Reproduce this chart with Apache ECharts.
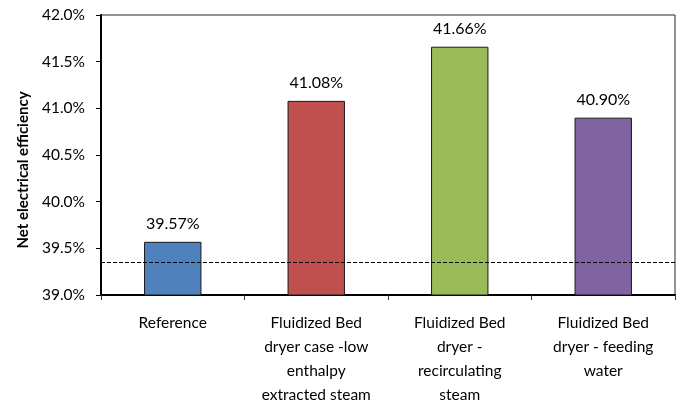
<!DOCTYPE html>
<html>
<head>
<meta charset="utf-8">
<script src="https://cdn.jsdelivr.net/npm/echarts@6/dist/echarts.min.js"></script>
<style>
  html, body { margin: 0; padding: 0; background: #fff; }
  #chart { width: 681px; height: 402px; }
</style>
</head>
<body>
<div id="chart"></div>
<script>
// Cases compared (label lines broken as on the axis)
const categories = [
  'Reference',
  'Fluidized Bed\ndryer case -low\nenthalpy\nextracted steam',
  'Fluidized Bed\ndryer -\nrecirculating\nsteam',
  'Fluidized Bed\ndryer - feeding\nwater'
];
// Net electrical efficiency, %
const efficiency = [39.57, 41.08, 41.66, 40.90];
const barColors = ['#4F81BD', '#C0504D', '#9BBB59', '#8064A2'];
// Horizontal dashed reference level, %
const referenceLevel = 39.35;
const yMin = 39.0, yMax = 42.0, yStep = 0.5;

const FONT = 'Lato, "Open Sans", sans-serif';

const chart = echarts.init(document.getElementById('chart'), null, { renderer: 'canvas' });
chart.setOption({
  animation: false,
  backgroundColor: '#ffffff',
  grid: {
    left: 101, right: 6, top: 15, bottom: 107,
    outerBoundsMode: 'none', containLabel: false,
    show: true, borderColor: '#262626', borderWidth: 1
  },
  xAxis: {
    type: 'category',
    data: categories,
    axisLine: { lineStyle: { color: '#000', width: 2 } },
    axisTick: { show: true, length: 5, lineStyle: { color: '#333', width: 1 } },
    axisLabel: {
      color: '#000', fontFamily: FONT, fontSize: 15.5, lineHeight: 24,
      margin: 16, interval: 0, align: 'center'
    }
  },
  yAxis: {
    type: 'value',
    min: yMin, max: yMax, interval: yStep,
    name: 'Net electrical efficiency',
    nameLocation: 'middle',
    nameGap: 69,
    nameTextStyle: {
      color: '#000', fontFamily: FONT, fontSize: 15, fontWeight: 'bold',
      padding: [0, 30, 0, 0]
    },
    axisLine: { show: true, lineStyle: { color: '#000', width: 2 } },
    axisTick: { show: true, length: 5, lineStyle: { color: '#000' } },
    splitLine: { show: false },
    axisLabel: {
      color: '#000', fontFamily: FONT, fontSize: 15.5, margin: 16,
      formatter: v => v.toFixed(1) + '%'
    }
  },
  series: [{
    type: 'bar',
    barWidth: '40%',
    data: efficiency.map((v, i) => ({
      value: v,
      itemStyle: { color: barColors[i], borderColor: '#1a1a1a', borderWidth: 1 }
    })),
    label: {
      show: true, position: 'top', distance: 10,
      color: '#000', fontFamily: FONT, fontSize: 16,
      formatter: p => p.value.toFixed(2) + '%'
    },
    markLine: {
      silent: true,
      symbol: ['none', 'none'],
      label: { show: false },
      lineStyle: { color: '#000', type: [4, 2], width: 1 },
      data: [{ yAxis: referenceLevel }]
    }
  }]
});
</script>
</body>
</html>
